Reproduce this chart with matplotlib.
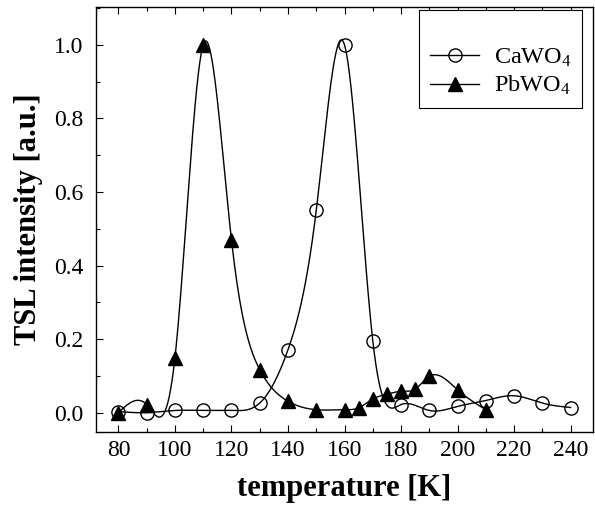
import numpy as np
import matplotlib.pyplot as plt
from matplotlib.ticker import MultipleLocator

plt.rcParams['font.family'] = ['Liberation Serif', 'DejaVu Serif']
plt.rcParams['mathtext.fontset'] = 'custom'
plt.rcParams['mathtext.rm'] = 'Liberation Serif'
plt.rcParams['mathtext.default'] = 'regular'

# CaWO4 glow curve
t_ca = [80, 90, 100, 110, 120, 130, 140, 150, 160, 170, 180, 190, 200, 210, 220, 230, 240]
i_ca = [0.003, 0.0, 0.006, 0.006, 0.006, 0.026, 0.171, 0.55, 1.0, 0.196, 0.022,
        0.006, 0.017, 0.033, 0.046, 0.026, 0.014]

# PbWO4 glow curve
t_pb = [80, 90, 100, 110, 120, 130, 140, 150, 160, 165, 170, 175, 180, 185, 190, 200, 210]
i_pb = [0.0, 0.022, 0.149, 1.0, 0.47, 0.117, 0.031, 0.008, 0.008, 0.013, 0.037,
        0.05, 0.058, 0.064, 0.099, 0.062, 0.008]


def spline(x, y, n=600):
    # natural cubic spline through the points, just for drawing the curve
    x = np.asarray(x, float)
    y = np.asarray(y, float)
    m = len(x)
    h = np.diff(x)
    A = np.zeros((m, m))
    b = np.zeros(m)
    A[0, 0] = A[-1, -1] = 1
    for k in range(1, m - 1):
        A[k, k - 1] = h[k - 1]
        A[k, k] = 2 * (h[k - 1] + h[k])
        A[k, k + 1] = h[k]
        b[k] = 6 * ((y[k + 1] - y[k]) / h[k] - (y[k] - y[k - 1]) / h[k - 1])
    M = np.linalg.solve(A, b)
    xs = np.linspace(x[0], x[-1], n)
    j = np.clip(np.searchsorted(x, xs) - 1, 0, m - 2)
    dx = xs - x[j]
    hj = h[j]
    c1 = (y[j + 1] - y[j]) / hj - hj * (2 * M[j] + M[j + 1]) / 6
    ys = y[j] + c1 * dx + M[j] / 2 * dx**2 + (M[j + 1] - M[j]) / (6 * hj) * dx**3
    return xs, ys


fig = plt.figure(figsize=(5.95, 5.05), dpi=100, facecolor="white")
ax = fig.add_axes([0.161, 0.145, 0.836, 0.841])

xs, ys = spline(t_ca, i_ca)
ax.plot(xs, ys, color="black", lw=1.0, zorder=2)
xs, ys = spline(t_pb, i_pb)
ax.plot(xs, ys, color="black", lw=1.0, zorder=2)

ax.plot(t_ca, i_ca, ls="none", marker="o", ms=9.5, mfc="none", mec="black", mew=1.0, zorder=3)
ax.plot(t_pb, i_pb, ls="none", marker="^", ms=10, mfc="black", mec="black", zorder=4)

# legend handles
ax.plot([], [], color="black", lw=1.0, marker="o", ms=9.5, mfc="none", mew=1.0, label="CaWO$_4$")
ax.plot([], [], color="black", lw=1.0, marker="^", ms=10, mfc="black", label="PbWO$_4$")
leg = ax.legend(loc="upper right", bbox_to_anchor=(0.978, 0.993), fontsize=17.5,
                handlelength=2.0, fancybox=False, framealpha=1, edgecolor="black",
                borderpad=0.45, labelspacing=0.2, handletextpad=0.6,
                title=" ", title_fontsize=17, borderaxespad=0)
leg.get_frame().set_linewidth(0.8)

ax.set_xlim(72, 248)
ax.set_ylim(-0.052, 1.103)
ax.xaxis.set_major_locator(MultipleLocator(20))
ax.xaxis.set_minor_locator(MultipleLocator(10))
ax.yaxis.set_major_locator(MultipleLocator(0.2))
ax.yaxis.set_minor_locator(MultipleLocator(0.1))
ax.yaxis.set_major_formatter(plt.FormatStrFormatter("%.1f"))
ax.tick_params(which="both", direction="in", top=True, labelsize=17, width=0.8)
ax.tick_params(which="major", length=5)
ax.tick_params(axis="y", which="major", pad=9)
ax.tick_params(axis="x", which="major", pad=6)
ax.tick_params(which="minor", length=3)
for s in ax.spines.values():
    s.set_linewidth(1.0)

ax.set_xlabel("temperature [K]", fontsize=22, fontweight="bold", labelpad=9)
ax.set_ylabel("TSL intensity [a.u.]", fontsize=22, fontweight="bold", labelpad=8)

fig.savefig("out.png", dpi=100)
